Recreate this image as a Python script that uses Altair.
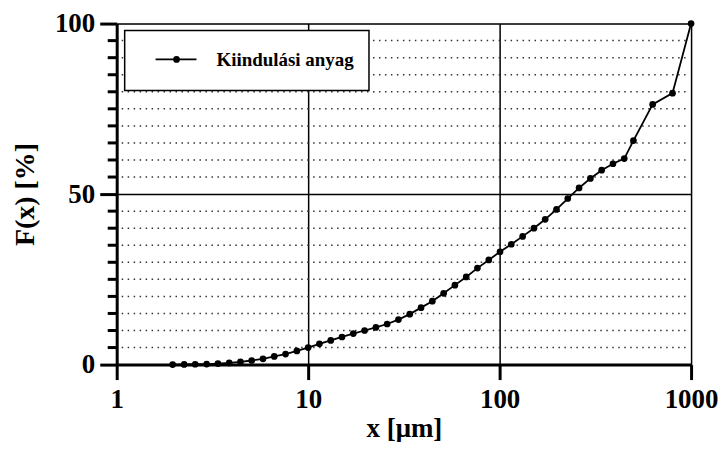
import altair as alt
import pandas as pd

# particle size [µm]
x_vals = [1.96, 2.25, 2.57, 2.95, 3.38, 3.87, 4.43, 5.07, 5.81, 6.65, 7.62, 8.73, 10.0,
          11.45, 13.12, 15.02, 17.21, 19.71, 22.58, 25.86, 29.62, 33.93, 38.87, 44.52,
          51.0, 58.4, 66.9, 76.6, 87.8, 100.5, 115.1, 131.9, 151.1, 173.0, 198.2, 227.0,
          260.0, 297.9, 341.2, 390.8, 447.7, 500.0, 630.0, 800.0, 1000.0]
# cumulative distribution F(x) [%]
f_vals = [0.0, 0.05, 0.1, 0.15, 0.3, 0.5, 0.8, 1.2, 1.7, 2.4, 3.1, 4.0, 5.0,
          6.1, 7.1, 8.1, 9.1, 10.0, 10.9, 11.9, 13.2, 14.8,
          16.7, 18.6, 20.9, 23.3, 25.7, 28.3, 30.7, 33.1, 35.3, 37.6, 40.0, 42.6, 45.5, 48.7, 51.8,
          54.6, 57.0, 58.9, 60.4,
          65.7, 76.3, 79.6, 100.0]
series_name = "Kiindulási anyag"
x_ticks = [1, 10, 100, 1000]
y_ticks = [0, 50, 100]
y_minor = [5, 10, 15, 20, 25, 30, 35, 40, 45, 55, 60, 65, 70, 75, 80, 85, 90, 95]

W, H = 576, 342
FONT = "Liberation Serif"

df = pd.DataFrame({"x": x_vals, "F": f_vals})
minor_df = pd.DataFrame({"F": y_minor})
one = pd.DataFrame({"label": [series_name]})

xscale = alt.Scale(type="log", domain=[1, 1000], nice=False)
yscale = alt.Scale(domain=[0, 100], nice=False, zero=True)

xaxis = alt.Axis(values=x_ticks, format="d", title="x [μm]", grid=True,
                 gridColor="black", gridWidth=1.5, tickSize=15, tickWidth=3,
                 tickColor="black", domainColor="black", domainWidth=3,
                 labelFont=FONT, labelFontSize=27, labelFontWeight="bold",
                 labelColor="black", labelPadding=7, labelFlush=False,
                 titleFont=FONT, titleFontSize=27, titleFontWeight="bold",
                 titleColor="black", titlePadding=3)
yaxis = alt.Axis(values=y_ticks, title="F(x) [%]", grid=True,
                 gridColor="black", gridWidth=1.5, tickSize=17, tickWidth=3,
                 tickColor="black", domainColor="black", domainWidth=3,
                 labelFont=FONT, labelFontSize=27, labelFontWeight="bold",
                 labelColor="black", labelPadding=5, labelFlush=False,
                 titleFont=FONT, titleFontSize=28, titleFontWeight="bold",
                 titleColor="black", titlePadding=15)

base = alt.Chart(df)

line = base.mark_line(color="black", strokeWidth=1.8, clip=False).encode(
    x=alt.X("x:Q", scale=xscale, axis=xaxis),
    y=alt.Y("F:Q", scale=yscale, axis=yaxis),
)
pts = base.mark_circle(color="black", size=45, opacity=1).encode(
    x=alt.X("x:Q", scale=xscale),
    y=alt.Y("F:Q", scale=yscale),
)

minor_grid = alt.Chart(minor_df).mark_rule(
    color="#333", strokeWidth=1.5, strokeDash=[1.5, 4.5]
).encode(y=alt.Y("F:Q", scale=yscale), x=alt.value(5), x2=alt.value(W - 5))

minor_ticks = alt.Chart(minor_df).mark_rule(color="black", strokeWidth=3).encode(
    y=alt.Y("F:Q", scale=yscale), x=alt.value(-9), x2=alt.value(0)
)

leg_box = alt.Chart(one).mark_rect(fill="white", stroke="black", strokeWidth=1.5).encode(
    x=alt.value(8), x2=alt.value(253), y=alt.value(7), y2=alt.value(67)
)
leg_line = alt.Chart(one).mark_rule(color="black", strokeWidth=1.8).encode(
    x=alt.value(39), x2=alt.value(80), y=alt.value(36)
)
leg_pt = alt.Chart(one).mark_circle(color="black", size=45, opacity=1).encode(
    x=alt.value(60), y=alt.value(36)
)
leg_text = alt.Chart(one).mark_text(
    align="left", baseline="middle", font=FONT, fontSize=19, fontWeight="bold", color="black"
).encode(x=alt.value(100), y=alt.value(37), text="label:N")

chart = alt.layer(
    minor_grid, minor_ticks, line, pts, leg_box, leg_line, leg_pt, leg_text
).properties(
    width=W, height=H,
    autosize=alt.AutoSizeParams(type="none"),
    padding={"left": 109, "top": 15, "right": 27, "bottom": 77},
).configure_view(stroke="black", strokeWidth=2.5).configure(background="white")

chart.save("out.html", embed_options={"renderer": "svg", "actions": False})
